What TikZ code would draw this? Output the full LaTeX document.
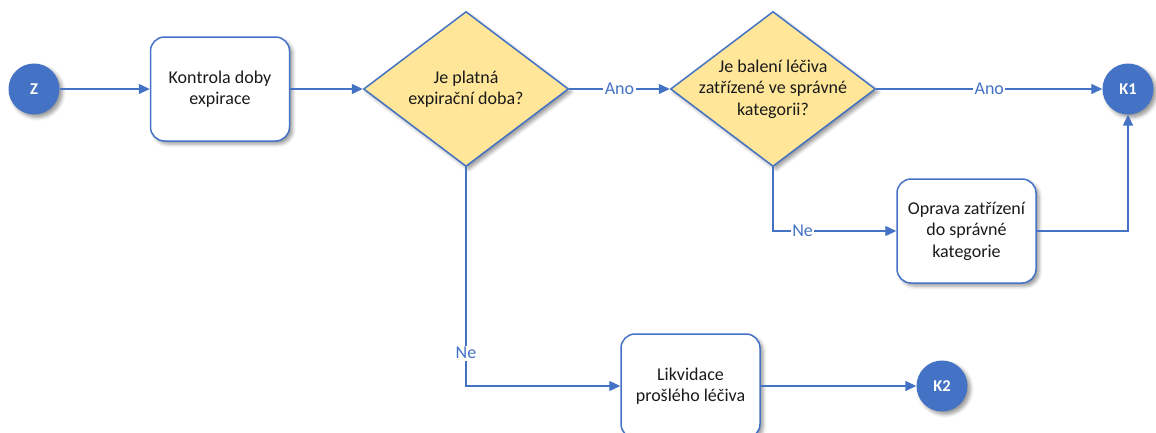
\documentclass[tikz,border=0pt]{standalone}
\usepackage{fontspec}
\setmainfont{Carlito}
\usetikzlibrary{shapes.geometric,arrows.meta,shadows.blur,calc}

\definecolor{flowblue}{HTML}{4472C4}
\definecolor{decfill}{HTML}{FFE699}
\definecolor{ink}{HTML}{1A1A1A}

\tikzset{
  every node/.style={font=\fontsize{18}{21.5}\selectfont, text=ink},
  soft/.style={blur shadow={shadow xshift=3pt, shadow yshift=-3pt,
      shadow blur radius=3.5pt, shadow opacity=40}},
  terminal/.style={circle, fill=flowblue, minimum size=51pt, inner sep=0pt,
      text=white, font=\fontsize{16.5}{18}\selectfont\bfseries, soft},
  stepbox/.style={rectangle, rounded corners=14pt, draw=flowblue, line width=1.5pt,
      fill=white, minimum width=139pt, minimum height=104pt, align=center,
      inner sep=2pt, soft},
  decision/.style={diamond, draw=flowblue, line width=1.5pt, fill=decfill,
      minimum width=205pt, minimum height=155pt, inner sep=0pt, soft},
  qtext/.style={align=center, inner sep=0pt},
  flow/.style={draw=flowblue, line width=1.4pt,
      -{Triangle[length=11pt,width=10pt]}},
  answer/.style={fill=white, inner sep=1.5pt, text=flowblue,
      font=\fontsize{18}{21.5}\selectfont},
}

\begin{document}
\begin{tikzpicture}[x=1pt, y=-1pt]
\useasboundingbox (0,0) rectangle (1156,432);

% start and end terminals
\node[terminal] (Z)  at (34,89)   {Z};
\node[terminal] (K1) at (1128,89) {K1};
\node[terminal] (K2) at (942,386) {K2};

% process steps
\node[stepbox] (check)   at (220,89)    {Kontrola doby\\expirace};
\node[stepbox] (fix)     at (966.5,231) {Oprava zatřízení\\do správné\\kategorie};
\node[stepbox] (dispose) at (690.5,386) {Likvidace\\prošlého léčiva};

% decisions
\node[decision] (valid) at (466,89) {};
\node[qtext] (validtext) at (valid.center) {Je platná\\expirační doba?};
\node[decision] (sorted) at (773,89) {};
\node[qtext] (sortedtext) at (sorted.center) {Je balení léčiva\\zatřízené ve správné\\kategorii?};

% connectors
\draw[flow] (Z.east) -- (Z.east -| check.west);
\draw[flow] (check.east) -- (valid.west);
\draw[flow] (valid.east) -- node[answer] (ano1) {Ano} (sorted.west);
\draw[flow] (sorted.east) -- node[answer] (ano2) {Ano} (K1.west);

\coordinate (bendA) at (sorted.south |- fix.west);
\draw[flow] (sorted.south) -- (bendA) -- (fix.west);
\node[answer] (ne1) at ($(bendA)!0.24!(fix.west)$) {Ne};

\draw[flow] (fix.east) -| (K1.south);

\coordinate (bendB) at (valid.south |- dispose.west);
\draw[flow] (valid.south) -- (bendB) -- (dispose.west);
\node[answer] (ne2) at ($(valid.south)!0.85!(bendB)$) {Ne};

\draw[flow] (dispose.east) -- (K2.west);
\end{tikzpicture}
\end{document}
